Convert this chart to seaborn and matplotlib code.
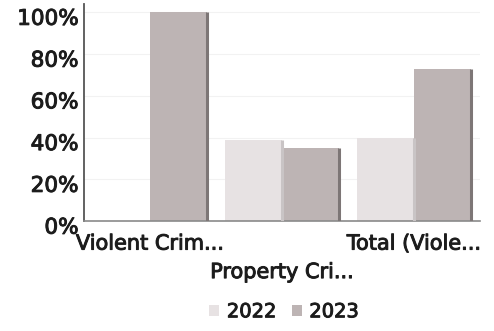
import matplotlib
matplotlib.use("Agg")
import matplotlib.pyplot as plt
import matplotlib.transforms as mtransforms
import matplotlib.patheffects as pe
import seaborn as sns
import pandas as pd
from matplotlib.patches import Patch
from matplotlib.ticker import PercentFormatter

categories = ["Violent Crim...", "Property Cri...", "Total (Viole..."]
years = ["2022", "2023"]
share_2022 = [0.00, 0.39, 0.40]
share_2023 = [1.00, 0.35, 0.73]
y_ticks = [0, 0.2, 0.4, 0.6, 0.8, 1.0]

colors = {"2022": "#e7e2e3", "2023": "#bdb4b4"}
edge_colors = {"2022": "#c9c4c5", "2023": "#7d7676"}
text_color = "#1c1c1c"
heavier = [pe.withStroke(linewidth=0.7, foreground=text_color)]

df = pd.DataFrame({
    "category": categories * 2,
    "year": [years[0]] * 3 + [years[1]] * 3,
    "share": share_2022 + share_2023,
})

sns.set_style("white")
plt.rcParams["font.family"] = ["DejaVu Sans"]

fig = plt.figure(figsize=(4.94, 3.31), dpi=100)
ax = fig.add_axes([0.170, 0.332, 0.802, 0.656])

sns.barplot(data=df, x="category", y="share", hue="year", palette=colors,
            order=categories, hue_order=years, width=0.86, gap=0,
            linewidth=0, saturation=1, legend=False, ax=ax)

# darker right-hand edge on each bar for a slight depth effect
for container, yr in zip(ax.containers, years):
    for bar in container:
        h = bar.get_height()
        if h <= 0:
            continue
        x1 = bar.get_x() + bar.get_width()
        ax.plot([x1, x1], [0, h], color=edge_colors[yr], lw=2.2,
                solid_capstyle="butt", zorder=3)

ax.set_ylim(0, 1.04)
ax.set_xlim(-0.5, 2.5)
ax.set_yticks(y_ticks)
ax.yaxis.set_major_formatter(PercentFormatter(1.0, decimals=0))
ax.grid(axis="y", color="#f2f2f2", lw=0.8)
ax.set_axisbelow(True)

for side in ["top", "right"]:
    ax.spines[side].set_visible(False)
ax.spines["left"].set_color("#555555")
ax.spines["left"].set_linewidth(1.3)
ax.spines["bottom"].set_color("#8a8a8a")
ax.spines["bottom"].set_linewidth(1.2)

ax.set_xlabel("")
ax.set_ylabel("")
ax.tick_params(axis="both", length=0)
ax.tick_params(axis="y", labelsize=15.5, pad=4, labelcolor=text_color)
ax.tick_params(axis="x", labelsize=15, pad=9, labelcolor=text_color)
for lab in ax.get_yticklabels() + ax.get_xticklabels():
    lab.set_path_effects(heavier)
ax.xaxis.get_major_ticks()[1].set_pad(29.5)

# y labels sit slightly below their gridlines
shift = mtransforms.ScaledTranslation(0, -0.045, fig.dpi_scale_trans)
for lab in ax.get_yticklabels():
    lab.set_transform(lab.get_transform() + shift)

handles = [Patch(facecolor=colors[y], edgecolor="none", label=y) for y in years]
leg = fig.legend(handles=handles, loc="center", bbox_to_anchor=(0.575, 0.058),
                 ncol=2, frameon=False, handlelength=0.5,
                 handleheight=0.5, handletextpad=0.4, columnspacing=0.8,
                 labelcolor=text_color, fontsize=14)
for t in leg.get_texts():
    t.set_path_effects(heavier)

fig.savefig("out.png", dpi=100, facecolor="white")
